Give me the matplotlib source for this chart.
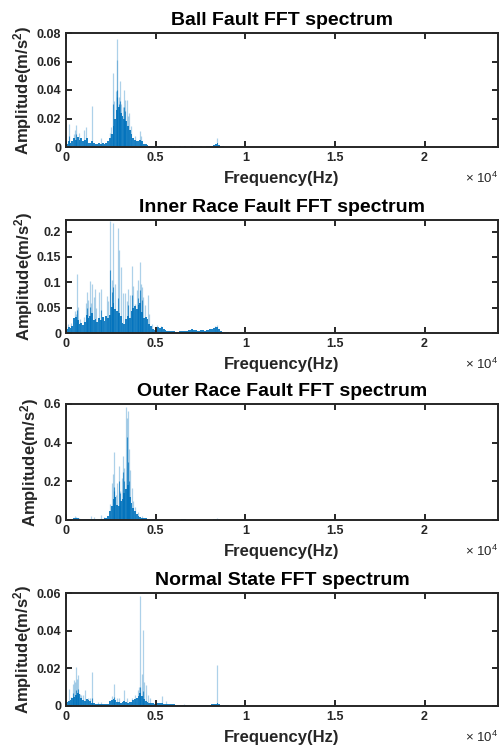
import numpy as np
import matplotlib
matplotlib.use("Agg")
import matplotlib.pyplot as plt

plt.rcParams['font.family'] = ['Liberation Sans', 'DejaVu Sans']
plt.rcParams['mathtext.fontset'] = 'custom'
plt.rcParams['mathtext.rm'] = 'Liberation Sans'
plt.rcParams['mathtext.bf'] = 'Liberation Sans:bold'
plt.rcParams['mathtext.default'] = 'regular'

# ---------------- data ----------------
titles = ["Ball Fault FFT spectrum", "Inner Race Fault FFT spectrum",
          "Outer Race Fault FFT spectrum", "Normal State FFT spectrum"]
y_limits = [0.08, 0.223, 0.6, 0.06]
y_ticks = [[0, 0.02, 0.04, 0.06, 0.08],
           [0, 0.05, 0.1, 0.15, 0.2],
           [0, 0.2, 0.4, 0.6],
           [0, 0.02, 0.04, 0.06]]
x_ticks = [0, 5000, 10000, 15000, 20000]
x_tick_labels = ["0", "0.5", "1", "1.5", "2"]
x_max = 24100

# spectral floor, 100 Hz bins starting at 0 Hz
body_start = 0
body_step = 100
body_ball = [0.002, 0.004, 0.003, 0.004, 0.006, 0.005, 0.007, 0.005, 0.006, 0.004,
             0.005, 0.006, 0.003, 0.003, 0.004, 0.003, 0.002, 0.002, 0.003, 0.002,
             0.003, 0.002, 0.003, 0.004, 0.006, 0.009, 0.015, 0.020, 0.026, 0.028,
             0.024, 0.022, 0.020, 0.018, 0.015, 0.012, 0.009, 0.006, 0.005, 0.004,
             0.004, 0.005, 0.004, 0.002, 0.002, 0.0015, 0.001, 0.001, 0.0008, 0.0008,
             0.0006, 0.0005, 0.0006, 0.0004, 0.0005, 0.0004, 0.0004, 0.0005, 0.0004, 0.0003,
             0.0004, 0.0003, 0.0003, 0.0004, 0.0003, 0.0003, 0.0004, 0.0003, 0.0003, 0.0003,
             0.0004, 0.0003, 0.0003, 0.0003, 0.0003, 0.0004, 0.0003, 0.0003, 0.0004, 0.0004,
             0.0005, 0.0008, 0.0012, 0.002, 0.0025, 0.0015, 0.0008, 0.0004, 0.0003, 0.0003,
             0.0003]
body_inner = [0.008, 0.012, 0.010, 0.014, 0.030, 0.032, 0.026, 0.018, 0.020, 0.016,
              0.022, 0.036, 0.030, 0.034, 0.040, 0.026, 0.028, 0.022, 0.030, 0.026,
              0.032, 0.024, 0.034, 0.030, 0.036, 0.052, 0.060, 0.048, 0.044, 0.040,
              0.034, 0.020, 0.018, 0.028, 0.034, 0.030, 0.044, 0.050, 0.054, 0.048,
              0.056, 0.060, 0.042, 0.030, 0.032, 0.028, 0.018, 0.014, 0.008, 0.006,
              0.008, 0.012, 0.010, 0.012, 0.008, 0.006, 0.004, 0.004, 0.003, 0.003,
              0.003, 0.002, 0.002, 0.003, 0.003, 0.003, 0.004, 0.004, 0.005, 0.006,
              0.007, 0.006, 0.005, 0.004, 0.004, 0.005, 0.005, 0.004, 0.005, 0.006,
              0.007, 0.008, 0.010, 0.011, 0.012, 0.008, 0.004, 0.002, 0.002, 0.001,
              0.001]
body_outer = [0.002, 0.003, 0.004, 0.006, 0.010, 0.012, 0.010, 0.006, 0.005, 0.004,
              0.004, 0.005, 0.004, 0.005, 0.006, 0.004, 0.005, 0.004, 0.005, 0.006,
              0.006, 0.008, 0.010, 0.020, 0.045, 0.070, 0.110, 0.120, 0.080, 0.075,
              0.100, 0.110, 0.140, 0.160, 0.180, 0.120, 0.090, 0.060, 0.045, 0.030,
              0.022, 0.016, 0.012, 0.010, 0.008, 0.006, 0.004, 0.004, 0.003, 0.003,
              0.002, 0.002, 0.002, 0.002, 0.002, 0.002, 0.002, 0.002, 0.002, 0.002,
              0.002, 0.002, 0.002, 0.002, 0.003, 0.003, 0.003, 0.002, 0.002, 0.002,
              0.002, 0.002, 0.002, 0.002, 0.002, 0.002, 0.002, 0.002, 0.002, 0.002,
              0.002, 0.002, 0.003, 0.004, 0.004, 0.003, 0.002, 0.002, 0.002, 0.002,
              0.002]
body_normal = [0.002, 0.0025, 0.003, 0.0045, 0.005, 0.006, 0.007, 0.0065, 0.004, 0.003,
               0.0028, 0.0035, 0.003, 0.0025, 0.0018, 0.0016, 0.0012, 0.001, 0.001, 0.0012,
               0.001, 0.0009, 0.001, 0.0012, 0.0025, 0.003, 0.0035, 0.003, 0.002, 0.0022,
               0.0018, 0.002, 0.0025, 0.002, 0.0018, 0.002, 0.0022, 0.003, 0.0035, 0.004,
               0.0055, 0.007, 0.0055, 0.0035, 0.0028, 0.002, 0.0016, 0.0015, 0.0014, 0.0012,
               0.0013, 0.0014, 0.0015, 0.0016, 0.0013, 0.0012, 0.0012, 0.0011, 0.0011, 0.001,
               0.0008, 0.0005, 0.0004, 0.0004, 0.0004, 0.0005, 0.0004, 0.0004, 0.0004, 0.0004,
               0.0004, 0.0004, 0.0004, 0.0004, 0.0004, 0.0004, 0.0004, 0.0004, 0.0004, 0.0005,
               0.0006, 0.0008, 0.001, 0.0012, 0.0014, 0.0008, 0.0004, 0.0003, 0.0003, 0.0003,
               0.0003]

# strong (dark) spectral lines
dark_ball_f = [150, 555, 2610, 2830, 2870, 2950, 3015, 3240, 3300]
dark_ball_a = [0.008, 0.009, 0.030, 0.035, 0.040, 0.030, 0.032, 0.028, 0.025]
dark_inner_f = [615, 1165, 1350, 1960, 2460, 2550, 2645, 2886, 3480, 3660, 4030, 4110, 4220]
dark_inner_a = [0.045, 0.050, 0.052, 0.045, 0.125, 0.080, 0.090, 0.070, 0.055, 0.075, 0.070, 0.084, 0.065]
dark_outer_f = [2650, 2700, 2960, 3000, 3200, 3250, 3385, 3440, 3500]
dark_outer_a = [0.17, 0.15, 0.20, 0.14, 0.25, 0.20, 0.43, 0.30, 0.20]
dark_normal_f = [370, 555, 666, 1460, 2680, 4145, 4270]
dark_normal_a = [0.007, 0.0086, 0.009, 0.004, 0.005, 0.010, 0.008]

# peak (light) spectral lines
peak_ball_f = [185, 420, 520, 555, 720, 980, 1110, 1460, 1960, 2430, 2516, 2610, 2680,
               2790, 2830, 2870, 2950, 3015, 3060, 3160, 3240, 3300, 3385, 3450, 3520,
               3600, 3850, 4125, 4200, 8420]
peak_ball_a = [0.016, 0.009, 0.012, 0.0155, 0.0095, 0.012, 0.014, 0.029, 0.006, 0.010,
               0.014, 0.052, 0.032, 0.039, 0.061, 0.076, 0.035, 0.046, 0.030, 0.028,
               0.040, 0.033, 0.033, 0.022, 0.024, 0.015, 0.008, 0.0114, 0.008, 0.0065]
peak_inner_f = [120, 300, 480, 540, 615, 660, 800, 980, 1100, 1165, 1220, 1350, 1400,
                1440, 1535, 1630, 1700, 1850, 1960, 2080, 2275, 2370, 2460, 2550, 2645,
                2740, 2886, 2960, 3070, 3180, 3290, 3380, 3480, 3570, 3660, 3750, 3850,
                3940, 4030, 4110, 4180, 4220, 4310, 4400, 4480, 4550, 4650, 4800, 5100,
                5300, 7030, 8300, 8430]
peak_inner_a = [0.018, 0.019, 0.044, 0.038, 0.117, 0.051, 0.028, 0.031, 0.060, 0.081,
                0.065, 0.103, 0.060, 0.097, 0.071, 0.087, 0.050, 0.081, 0.087, 0.031,
                0.074, 0.064, 0.222, 0.104, 0.217, 0.097, 0.207, 0.164, 0.130, 0.078,
                0.079, 0.064, 0.087, 0.075, 0.132, 0.092, 0.058, 0.085, 0.104, 0.140,
                0.097, 0.091, 0.071, 0.055, 0.028, 0.075, 0.038, 0.018, 0.015, 0.014,
                0.008, 0.013, 0.016]
peak_outer_f = [500, 580, 700, 1400, 1560, 1960, 2100, 2460, 2550, 2645, 2700, 2770,
                2850, 2960, 3030, 3110, 3200, 3260, 3330, 3385, 3440, 3515, 3570, 3660,
                3750, 3850, 4020, 4250, 6500, 8400]
peak_outer_a = [0.020, 0.018, 0.012, 0.020, 0.015, 0.025, 0.015, 0.083, 0.190, 0.240,
                0.350, 0.130, 0.190, 0.280, 0.150, 0.216, 0.331, 0.270, 0.582, 0.526,
                0.565, 0.366, 0.260, 0.163, 0.100, 0.065, 0.040, 0.022, 0.006, 0.008]
peak_normal_f = [185, 280, 370, 425, 480, 555, 610, 666, 760, 850, 940, 1073, 1210,
                 1330, 1460, 1800, 1960, 2550, 2680, 2830, 2960, 3240, 3380, 3700, 3850,
                 4000, 4070, 4145, 4220, 4270, 4370, 4440, 4550, 4680, 5370, 5600, 6600,
                 8450, 12000, 13800, 20000]
peak_normal_a = [0.0088, 0.005, 0.0118, 0.0136, 0.013, 0.0206, 0.0145, 0.0162, 0.0065,
                 0.0056, 0.0056, 0.0083, 0.0045, 0.004, 0.0178, 0.0022, 0.0022, 0.0051,
                 0.0118, 0.0045, 0.0042, 0.0083, 0.004, 0.004, 0.0056, 0.0083, 0.010,
                 0.0585, 0.017, 0.0405, 0.0127, 0.011, 0.0056, 0.004, 0.0051, 0.0025,
                 0.0012, 0.0216, 0.0006, 0.0005, 0.0006]

bodies = [body_ball, body_inner, body_outer, body_normal]
darks = [(dark_ball_f, dark_ball_a), (dark_inner_f, dark_inner_a),
         (dark_outer_f, dark_outer_a), (dark_normal_f, dark_normal_a)]
peaks = [(peak_ball_f, peak_ball_a), (peak_inner_f, peak_inner_a),
         (peak_outer_f, peak_outer_a), (peak_normal_f, peak_normal_a)]

# ---------------- layout ----------------
W, H = 503, 748
fig = plt.figure(figsize=(W / 100, H / 100), dpi=100)
# (top, bottom) pixel rows of each axes
rows = [(33, 147), (220, 333), (404, 520), (593, 706)]
left_px, right_px = 66, 498
C = '#0072BD'
SPINE = '#262626'

for i in range(4):
    top, bot = rows[i]
    ax = fig.add_axes([left_px / W, 1 - bot / H, (right_px - left_px) / W, (bot - top) / H])
    body = bodies[i]
    edges = body_start + body_step * np.arange(len(body) + 1)
    ax.stairs(body, edges, fill=True, color=C, alpha=0.88, linewidth=0)
    pf, pa = peaks[i]
    ax.vlines(pf, 0, pa, color=C, alpha=0.32, linewidth=0.9)
    df, da = darks[i]
    ax.vlines(df, 0, da, color=C, alpha=0.7, linewidth=0.8)

    ax.set_xlim(0, x_max)
    ax.set_ylim(0, y_limits[i])
    ax.set_xticks(x_ticks)
    ax.set_xticklabels(x_tick_labels)
    ax.set_yticks(y_ticks[i])
    ax.set_yticklabels(["%g" % v for v in y_ticks[i]])
    ax.tick_params(direction='in', length=4, width=1.4, top=True, right=True,
                   labelsize=9, pad=3.5, colors=SPINE, labelcolor=SPINE)
    for lab in ax.get_xticklabels() + ax.get_yticklabels():
        lab.set_fontweight('bold')
    for s in ax.spines.values():
        s.set_linewidth(1.4)
        s.set_color(SPINE)
    ax.set_title(titles[i], fontsize=14, fontweight='bold', pad=6)
    ax.set_xlabel('Frequency(Hz)', fontsize=12, fontweight='bold', labelpad=5, color=SPINE)
    ax.set_ylabel('Amplitude(m/s$^{2}$)', fontsize=12, fontweight='bold', labelpad=1.5, color=SPINE)
    ax.annotate(r'$\times$ 10$^{4}$', xy=(1, 0), xycoords='axes fraction',
                xytext=(0, -17), textcoords='offset points', ha='right', va='top',
                fontsize=9.5, color=SPINE)

fig.savefig('out.png', dpi=100)
